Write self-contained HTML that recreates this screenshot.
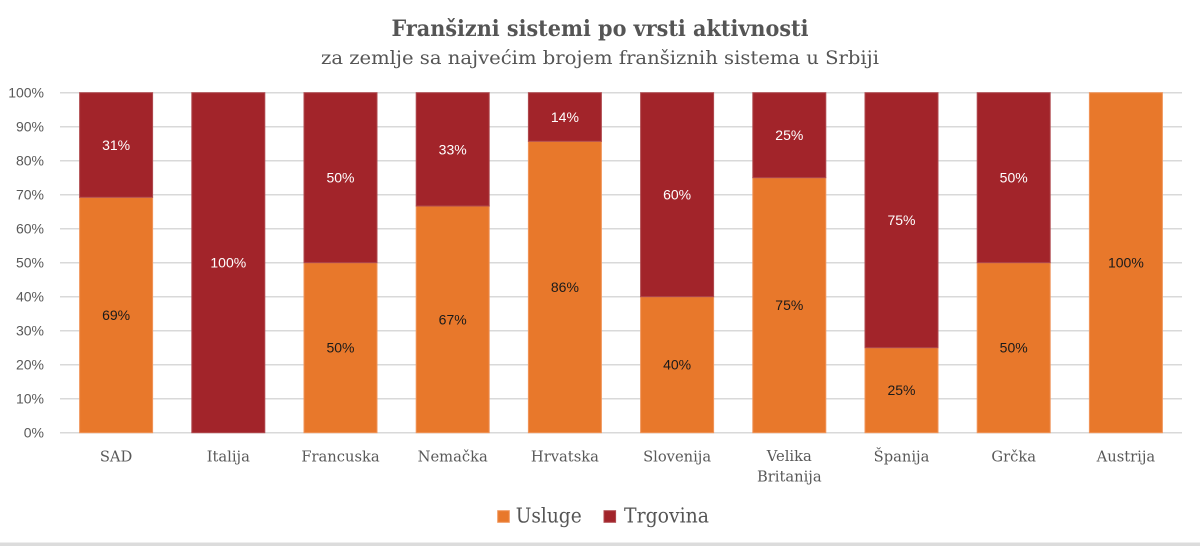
<!DOCTYPE html>
<html>
<head>
<meta charset="utf-8">
<style>
  html,body{margin:0;padding:0;background:#fff;}
  svg{display:block;}
  .ax{font-family:"Liberation Sans",sans-serif;font-size:14px;fill:#595959;}
  .cat{font-family:"DejaVu Serif","Liberation Serif",serif;font-size:14.7px;fill:#595959;}
  .dl{font-family:"Liberation Sans",sans-serif;font-size:14px;}
  .w{fill:#ffffff;}
  .b{fill:#1a1a1a;}
</style>
</head>
<body>
<svg width="1200" height="546" viewBox="0 0 1200 546" xmlns="http://www.w3.org/2000/svg">
  <rect x="0" y="0" width="1200" height="546" fill="#fff"/>
  <!-- Title -->
  <text x="600" y="36" text-anchor="middle" font-family="'DejaVu Serif','Liberation Serif',serif" font-weight="bold" font-size="22" fill="#555555" textLength="417" lengthAdjust="spacingAndGlyphs">Franšizni sistemi po vrsti aktivnosti</text>
  <text x="600" y="64" text-anchor="middle" font-family="'DejaVu Serif','Liberation Serif',serif" font-size="19" fill="#555555" textLength="558" lengthAdjust="spacingAndGlyphs">za zemlje sa najvećim brojem franšiznih sistema u Srbiji</text>

  <!-- Gridlines -->
  <g stroke="#d9d9d9" stroke-width="1.5">
    <line x1="60" x2="1182" y1="92.7" y2="92.7"/>
    <line x1="60" x2="1182" y1="126.7" y2="126.7"/>
    <line x1="60" x2="1182" y1="160.7" y2="160.7"/>
    <line x1="60" x2="1182" y1="194.7" y2="194.7"/>
    <line x1="60" x2="1182" y1="228.7" y2="228.7"/>
    <line x1="60" x2="1182" y1="262.7" y2="262.7"/>
    <line x1="60" x2="1182" y1="296.7" y2="296.7"/>
    <line x1="60" x2="1182" y1="330.7" y2="330.7"/>
    <line x1="60" x2="1182" y1="364.7" y2="364.7"/>
    <line x1="60" x2="1182" y1="398.7" y2="398.7"/>
    <line x1="60" x2="1182" y1="432.7" y2="432.7"/>
  </g>

  <!-- Y axis labels -->
  <g class="ax" text-anchor="end">
    <text x="44" y="97.7">100%</text>
    <text x="44" y="131.7">90%</text>
    <text x="44" y="165.7">80%</text>
    <text x="44" y="199.7">70%</text>
    <text x="44" y="233.7">60%</text>
    <text x="44" y="267.7">50%</text>
    <text x="44" y="301.7">40%</text>
    <text x="44" y="335.7">30%</text>
    <text x="44" y="369.7">20%</text>
    <text x="44" y="403.7">10%</text>
    <text x="44" y="437.7">0%</text>
  </g>

  <!-- Bars -->
  <g stroke-width="1">
    <!-- SAD -->
    <rect x="79.6" y="197.3" width="73" height="235.4" fill="#e8782b" stroke="#f0955a"/>
    <rect x="79.6" y="92.7" width="73" height="104.6" fill="#a2242a" stroke="#b04a4f"/>
    <!-- Italija -->
    <rect x="191.8" y="92.7" width="73" height="340" fill="#a2242a" stroke="#b04a4f"/>
    <!-- Francuska -->
    <rect x="304" y="262.7" width="73" height="170" fill="#e8782b" stroke="#f0955a"/>
    <rect x="304" y="92.7" width="73" height="170" fill="#a2242a" stroke="#b04a4f"/>
    <!-- Nemacka -->
    <rect x="416.2" y="206" width="73" height="226.7" fill="#e8782b" stroke="#f0955a"/>
    <rect x="416.2" y="92.7" width="73" height="113.3" fill="#a2242a" stroke="#b04a4f"/>
    <!-- Hrvatska -->
    <rect x="528.4" y="141.3" width="73" height="291.4" fill="#e8782b" stroke="#f0955a"/>
    <rect x="528.4" y="92.7" width="73" height="48.6" fill="#a2242a" stroke="#b04a4f"/>
    <!-- Slovenija -->
    <rect x="640.6" y="296.7" width="73" height="136" fill="#e8782b" stroke="#f0955a"/>
    <rect x="640.6" y="92.7" width="73" height="204" fill="#a2242a" stroke="#b04a4f"/>
    <!-- Velika Britanija -->
    <rect x="752.8" y="177.7" width="73" height="255" fill="#e8782b" stroke="#f0955a"/>
    <rect x="752.8" y="92.7" width="73" height="85" fill="#a2242a" stroke="#b04a4f"/>
    <!-- Spanija -->
    <rect x="865" y="347.7" width="73" height="85" fill="#e8782b" stroke="#f0955a"/>
    <rect x="865" y="92.7" width="73" height="255" fill="#a2242a" stroke="#b04a4f"/>
    <!-- Grcka -->
    <rect x="977.2" y="262.7" width="73" height="170" fill="#e8782b" stroke="#f0955a"/>
    <rect x="977.2" y="92.7" width="73" height="170" fill="#a2242a" stroke="#b04a4f"/>
    <!-- Austrija -->
    <rect x="1089.4" y="92.7" width="73" height="340" fill="#e8782b" stroke="#f0955a"/>
  </g>

  <!-- Data labels -->
  <g class="dl" text-anchor="middle">
    <text class="w" x="116.1" y="150">31%</text>
    <text class="b" x="116.1" y="320">69%</text>
    <text class="w" x="228.3" y="267.7">100%</text>
    <text class="w" x="340.5" y="182.7">50%</text>
    <text class="b" x="340.5" y="352.7">50%</text>
    <text class="w" x="452.7" y="154.4">33%</text>
    <text class="b" x="452.7" y="324.4">67%</text>
    <text class="w" x="564.9" y="122">14%</text>
    <text class="b" x="564.9" y="292">86%</text>
    <text class="w" x="677.1" y="199.7">60%</text>
    <text class="b" x="677.1" y="369.7">40%</text>
    <text class="w" x="789.3" y="140.2">25%</text>
    <text class="b" x="789.3" y="310.2">75%</text>
    <text class="w" x="901.5" y="225.2">75%</text>
    <text class="b" x="901.5" y="395.2">25%</text>
    <text class="w" x="1013.7" y="182.7">50%</text>
    <text class="b" x="1013.7" y="352.7">50%</text>
    <text class="b" x="1125.9" y="267.7">100%</text>
  </g>

  <!-- Category labels -->
  <g class="cat" text-anchor="middle">
    <text x="116.1" y="461.7">SAD</text>
    <text x="228.3" y="461.7">Italija</text>
    <text x="340.5" y="461.7">Francuska</text>
    <text x="452.7" y="461.7">Nemačka</text>
    <text x="564.9" y="461.7">Hrvatska</text>
    <text x="677.1" y="461.7">Slovenija</text>
    <text x="789.3" y="461.2">Velika</text>
    <text x="789.3" y="481.7">Britanija</text>
    <text x="901.5" y="461.7">Španija</text>
    <text x="1013.7" y="461.7">Grčka</text>
    <text x="1125.9" y="461.7">Austrija</text>
  </g>

  <!-- Legend -->
  <rect x="497.7" y="510.7" width="11.6" height="11.6" fill="#e8782b" stroke="#f0955a" stroke-width="1"/>
  <text x="515.7" y="522.3" font-family="'DejaVu Serif','Liberation Serif',serif" font-size="20.5" fill="#555555" textLength="66" lengthAdjust="spacingAndGlyphs">Usluge</text>
  <rect x="604" y="510.7" width="11.6" height="11.6" fill="#a2242a" stroke="#b04a4f" stroke-width="1"/>
  <text x="624" y="522.3" font-family="'DejaVu Serif','Liberation Serif',serif" font-size="20.5" fill="#555555" textLength="85" lengthAdjust="spacingAndGlyphs">Trgovina</text>

  <!-- Bottom border -->
  <rect x="0" y="542.5" width="1200" height="3.5" fill="#dcdcdc"/>
</svg>
</body>
</html>
